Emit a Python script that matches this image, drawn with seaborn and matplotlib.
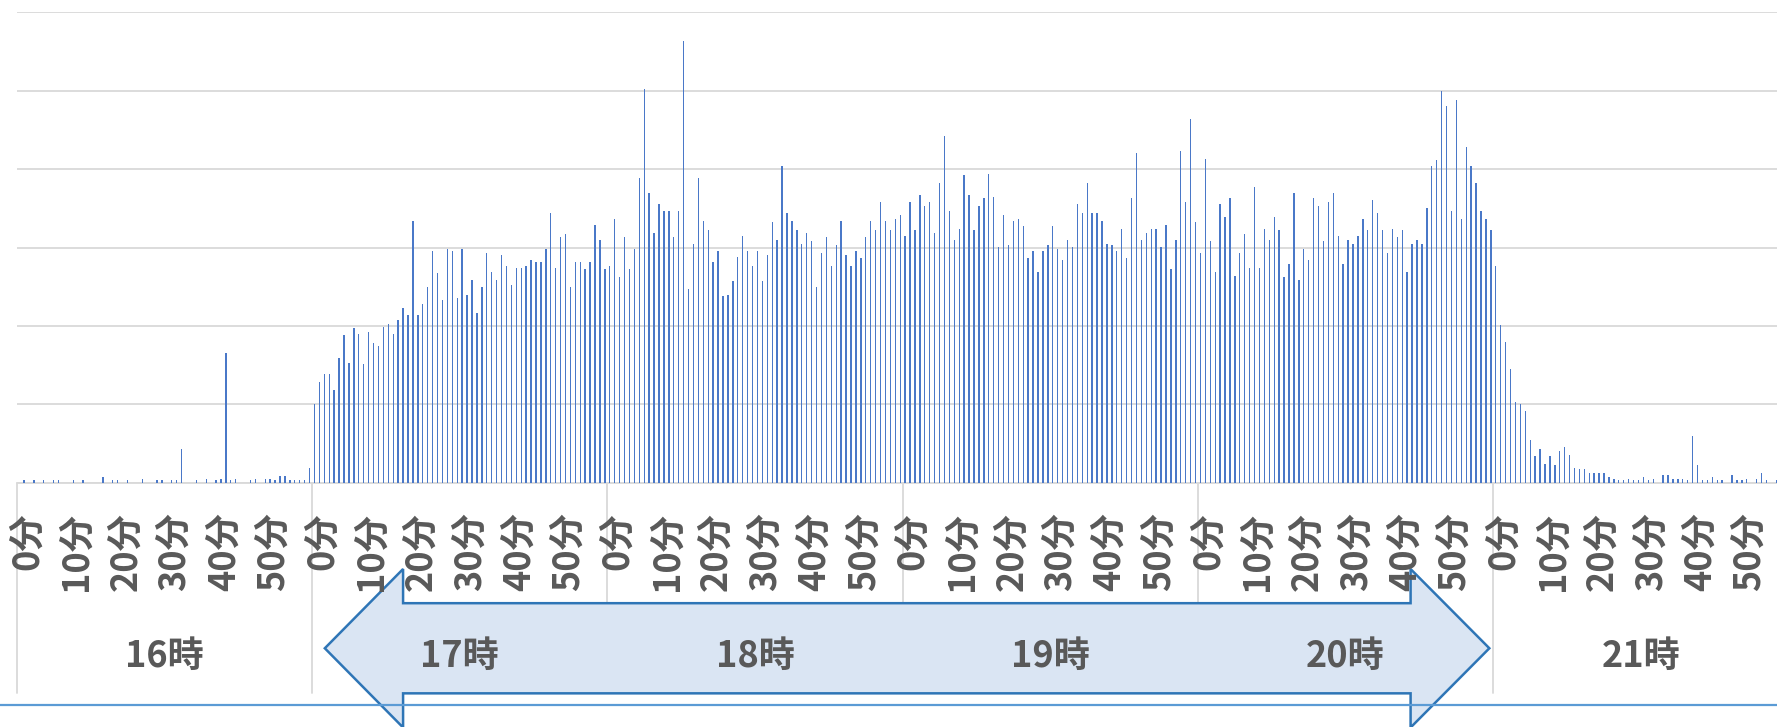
"""
Per-minute counts from 16:00 to 21:59, drawn as an Excel-like bar chart
with a two-level (minute / hour) category axis and a block arrow overlay.
"""
import numpy as np
import pandas as pd
import matplotlib
matplotlib.use("Agg")
import matplotlib.pyplot as plt
import matplotlib.transforms as mtransforms
from matplotlib.lines import Line2D
from matplotlib.patches import Polygon
import seaborn as sns

# values per minute, one list per hour (gridline step = 10)
h16 = [0, 0.3, 0, 0.3, 0, 0.3, 0, 0.3, 0.3, 0,
       0, 0.3, 0, 0.3, 0, 0, 0, 0.7, 0, 0.3,
       0.3, 0, 0.3, 0, 0, 0.5, 0, 0, 0.3, 0.3,
       0, 0.3, 0.3, 4.3, 0, 0, 0.3, 0, 0.5, 0,
       0.3, 0.5, 16.6, 0.3, 0.5, 0, 0, 0.3, 0.5, 0,
       0.5, 0.5, 0.3, 0.8, 0.8, 0.3, 0.3, 0.3, 0.3, 1.9]
h17 = [10.0, 12.8, 13.9, 13.9, 11.8, 15.9, 18.8, 15.3, 19.7, 19.0,
       15.1, 19.2, 17.8, 17.5, 19.9, 20.2, 19.0, 20.7, 22.3, 21.4,
       33.4, 21.4, 22.8, 25.0, 29.6, 26.7, 23.3, 29.8, 29.6, 23.6,
       29.8, 24.0, 25.9, 21.6, 25.0, 29.3, 26.9, 25.9, 29.1, 27.6,
       25.2, 27.4, 27.4, 27.6, 28.4, 28.1, 28.1, 29.8, 34.4, 27.4,
       31.3, 31.7, 25.0, 28.1, 28.1, 27.2, 28.1, 32.9, 31.0, 27.2]
h18 = [27.6, 33.6, 26.2, 31.3, 27.2, 29.8, 38.9, 50.2, 37.0, 31.9,
       35.5, 34.6, 34.6, 31.3, 34.6, 56.3, 24.7, 30.5, 38.9, 33.4,
       32.2, 28.1, 29.6, 23.8, 24.0, 25.7, 28.8, 31.5, 29.6, 27.6,
       29.6, 25.7, 29.1, 33.2, 31.0, 40.4, 34.4, 33.4, 32.2, 30.5,
       31.9, 30.8, 25.0, 29.3, 31.3, 27.6, 30.3, 33.4, 29.1, 27.6,
       29.6, 28.6, 31.3, 33.4, 32.2, 35.8, 33.4, 32.2, 33.6, 34.1]
h19 = [31.5, 35.8, 32.2, 36.7, 35.3, 35.8, 31.9, 38.2, 44.2, 34.6,
       31.0, 32.4, 39.2, 36.7, 32.2, 35.3, 36.3, 39.4, 36.5, 30.1,
       34.1, 30.3, 33.4, 33.6, 32.7, 28.6, 29.6, 26.9, 29.6, 30.3,
       32.7, 29.8, 28.4, 31.0, 30.1, 35.5, 34.4, 38.2, 34.4, 34.4,
       33.4, 30.5, 30.3, 29.6, 32.4, 28.6, 36.3, 42.0, 31.0, 31.9,
       32.4, 32.4, 30.1, 32.9, 27.2, 31.0, 42.3, 35.8, 46.4, 33.2]
h20 = [29.3, 41.3, 30.8, 26.9, 35.5, 33.9, 36.3, 26.4, 29.3, 31.7,
       27.4, 37.7, 27.4, 32.4, 31.0, 33.9, 32.2, 26.2, 27.9, 37.0,
       25.9, 29.8, 28.4, 36.3, 35.3, 30.8, 35.8, 37.0, 31.5, 27.9,
       31.0, 30.5, 31.5, 33.6, 32.2, 36.1, 34.4, 32.2, 29.3, 32.4,
       31.3, 32.2, 26.9, 30.5, 31.0, 30.5, 35.1, 40.4, 41.1, 50.0,
       48.1, 34.6, 48.8, 33.6, 42.8, 40.4, 38.2, 34.6, 33.6, 32.2]
h21 = [27.6, 20.1, 18.0, 14.5, 10.3, 10.0, 9.1, 5.5, 3.4, 4.3,
       2.4, 3.4, 2.2, 4.1, 4.6, 3.6, 1.9, 1.7, 1.7, 1.2,
       1.2, 1.2, 1.2, 0.7, 0.5, 0.3, 0.3, 0.5, 0.3, 0.3,
       0.7, 0.3, 0.5, 0, 1.0, 1.0, 0.5, 0.5, 0.5, 0.3,
       6.0, 2.2, 0.3, 0.3, 0.7, 0.3, 0.3, 0, 1.0, 0.3,
       0.3, 0.5, 0, 0.5, 1.2, 0.3, 0, 0.3, 0, 0]

hour_labels = ["16時", "17時", "18時", "19時", "20時", "21時"]
minute_ticks = [0, 10, 20, 30, 40, 50]
minute_labels = ["0分", "10分", "20分", "30分", "40分", "50分"]

values = h16 + h17 + h18 + h19 + h20 + h21
df = pd.DataFrame({"minute": np.arange(len(values)), "value": values})

BAR = "#4A78C8"
GRID = "#D9D9D9"
TEXT = "#595959"

sns.set_style("white")
plt.rcParams["font.family"] = ["Noto Sans CJK JP", "DejaVu Sans"]

fig = plt.figure(figsize=(17.77, 7.27), dpi=100)
ax = fig.add_axes([0.0094, 0.336, 0.99713, 0.6471])

sns.barplot(data=df, x="minute", y="value", color=BAR, saturation=1,
            width=0.28, linewidth=0, errorbar=None, ax=ax, zorder=2)

ax.set_xlim(-0.5, len(values) - 0.5)
ax.set_ylim(0, 60)
ax.set_yticks(range(0, 61, 10))
ax.set_yticklabels([])
ax.set_xticks([])
ax.set_xlabel("")
ax.set_ylabel("")
ax.tick_params(left=False, bottom=False)
ax.grid(axis="y", color=GRID, lw=1.3)
ax.grid(axis="x", visible=False)
ax.set_axisbelow(True)
for s in ax.spines.values():
    s.set_visible(False)
ax.axhline(0, color=GRID, lw=1.3, clip_on=False, zorder=1)

# x in data units, y in figure fraction
trans = mtransforms.blended_transform_factory(ax.transData, fig.transFigure)

n_hours = len(hour_labels)
for k in range(n_hours + 1):
    x = -0.5 + 60 * k
    ax.add_line(Line2D([x, x], [0.336, 0.0468], color=GRID, lw=1.3,
                       transform=trans, clip_on=False))

# block arrow over the 17時-20時 span
tip_l, base_l, base_r, tip_r = 62.1, 78.0, 282.7, 298.7
y_mid, y_head, y_shaft = 0.1083, 0.109, 0.062
pts = [(tip_l, y_mid), (base_l, y_mid + y_head), (base_l, y_mid + y_shaft),
       (base_r, y_mid + y_shaft), (base_r, y_mid + y_head), (tip_r, y_mid),
       (base_r, y_mid - y_head), (base_r, y_mid - y_shaft),
       (base_l, y_mid - y_shaft), (base_l, y_mid - y_head)]
arrow = Polygon(pts, closed=True, facecolor="#DAE5F3", edgecolor="#2E75B6",
                lw=1.8, transform=trans, clip_on=False, zorder=3)
ax.add_patch(arrow)

for k, hl in enumerate(hour_labels):
    ax.text(60 * k + 29.5, 0.0977, hl, transform=trans, ha="center",
            va="center", fontsize=26, fontweight="bold", color=TEXT,
            zorder=4, clip_on=False)
    for m, ml in zip(minute_ticks, minute_labels):
        ax.text(60 * k + m + 1.6, 0.2957, ml, transform=trans, rotation=90,
                ha="center", va="top", fontsize=26, fontweight="bold",
                color=TEXT, zorder=4, clip_on=False)

fig.add_artist(Line2D([0, 1], [0.0303, 0.0303], color="#5B9BD5", lw=1.6,
                      transform=fig.transFigure, zorder=5))

fig.savefig("out.png", dpi=100)
